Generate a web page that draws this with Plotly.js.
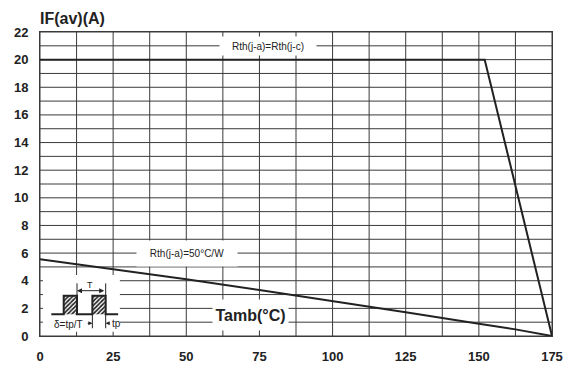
<!DOCTYPE html>
<html>
<head>
<meta charset="utf-8">
<script src="https://cdn.plot.ly/plotly-3.0.1.min.js"></script>
<style>html,body{margin:0;padding:0;background:#fff;}#chart{width:574px;height:366px;}</style>
</head>
<body>
<div id="chart"></div>
<script>
// Data
const tempMaxX = [0, 152, 175];
const currentMaxY = [20, 20, 0];
const tempAmbX = [0, 25, 50, 75, 100, 125, 150, 162.5, 175];
const currentAmbY = [5.55, 4.85, 4.1, 3.33, 2.55, 1.72, 0.88, 0.48, 0];
// Ticks and grid
const xTickVals = [0, 25, 50, 75, 100, 125, 150, 175];
const yTickVals = [0, 2, 4, 6, 8, 10, 12, 14, 16, 18, 20, 22];
const xGridVals = [0, 12.5, 25, 37.5, 50, 62.5, 75, 87.5, 100, 112.5, 125, 137.5, 150, 162.5, 175];
const yGridVals = [0, 1, 2, 3, 4, 5, 6, 7, 8, 9, 10, 11, 12, 13, 14, 15, 16, 17, 18, 19, 20, 21, 22];

// Inset pulse diagram (decorative schematic)
const insetBoxX = [1.0, 27.3, 27.3, 1.0, 1.0];
const insetBoxY = [0.3, 0.3, 4.41, 4.41, 0.3];
const pulse1X = [8.1, 8.1, 12.65, 12.65, 8.1];
const pulse2X = [17.9, 17.9, 22.45, 22.45, 17.9];
const pulseY = [1.57, 2.92, 2.92, 1.57, 1.57];
const waveX = [3.87, 8.1, 8.1, 12.65, 12.65, 17.9, 17.9, 22.45, 22.45, 26.7];
const waveY = [1.57, 1.57, 2.92, 2.92, 1.57, 1.57, 2.92, 2.92, 1.57, 1.57];
const markX = [12.65, 12.65, null, 22.45, 22.45, null, 17.9, 17.9, null, 22.45, 22.45];
const markY = [2.92, 3.81, null, 2.92, 3.81, null, 1.57, 0.56, null, 1.57, 0.56];

const FONT = 'Liberation Sans, Arial, Helvetica, sans-serif';
const INK = '#222';
const GRID = '#3a3a3a';

const hatch = {shape: '/', fgcolor: '#222', bgcolor: '#fff', size: 3, solidity: 0.55};

const traces = [
  {x: insetBoxX, y: insetBoxY, mode: 'lines', fill: 'toself', fillcolor: '#fff', line: {width: 0, color: '#fff'}, hoverinfo: 'skip', showlegend: false},
  {x: pulse1X, y: pulseY, mode: 'lines', fill: 'toself', fillcolor: '#fff', fillpattern: hatch, line: {width: 0}, hoverinfo: 'skip', showlegend: false},
  {x: pulse2X, y: pulseY, mode: 'lines', fill: 'toself', fillcolor: '#fff', fillpattern: hatch, line: {width: 0}, hoverinfo: 'skip', showlegend: false},
  {x: waveX, y: waveY, mode: 'lines', line: {color: INK, width: 2}, hoverinfo: 'skip', showlegend: false},
  {x: markX, y: markY, mode: 'lines', line: {color: INK, width: 1}, connectgaps: false, hoverinfo: 'skip', showlegend: false},
  {x: tempMaxX, y: currentMaxY, mode: 'lines', line: {color: INK, width: 2}, showlegend: false},
  {x: tempAmbX, y: currentAmbY, mode: 'lines', line: {color: INK, width: 2}, showlegend: false}
];

const gridShapes = [
  ...xGridVals.map(v => ({type: 'line', layer: 'below', xref: 'x', yref: 'paper', x0: v, x1: v, y0: 0, y1: 1, line: {color: GRID, width: 1}})),
  ...yGridVals.map(v => ({type: 'line', layer: 'below', xref: 'paper', yref: 'y', x0: 0, x1: 1, y0: v, y1: v, line: {color: GRID, width: 1}}))
];

const layout = {
  width: 574, height: 366,
  margin: {l: 40, r: 22, t: 32, b: 30},
  paper_bgcolor: '#fff', plot_bgcolor: '#fff',
  font: {family: FONT, color: INK},
  title: {
    text: 'IF(av)(A)',
    font: {family: FONT, size: 16, weight: 'bold', color: INK},
    xref: 'container', x: 40/574, xanchor: 'left',
    yref: 'container', y: 1 - 18/366, yanchor: 'middle'
  },
  xaxis: {
    range: [xTickVals[0], xTickVals[xTickVals.length - 1]],
    tickmode: 'array', tickvals: xTickVals, ticks: '',
    tickfont: {family: FONT, size: 13, weight: 'bold', color: INK},
    ticklabelstandoff: 8,
    showgrid: false,
    showline: true, mirror: true, linecolor: GRID, linewidth: 1,
    zeroline: false, fixedrange: true
  },
  yaxis: {
    range: [yTickVals[0], yTickVals[yTickVals.length - 1]],
    tickmode: 'array', tickvals: yTickVals, ticks: '',
    tickfont: {family: FONT, size: 13, weight: 'bold', color: INK},
    ticklabelstandoff: 8,
    showgrid: false,
    showline: true, mirror: true, linecolor: GRID, linewidth: 1,
    zeroline: false, fixedrange: true
  },
  shapes: gridShapes,
  annotations: [
    {x: 77.9, y: 21, xref: 'x', yref: 'y', text: 'Rth(j-a)=Rth(j-c)', showarrow: false,
     font: {family: FONT, size: 10, color: INK}, bgcolor: '#fff', width: 96, height: 18, borderpad: 0},
    {x: 50.2, y: 5.97, xref: 'x', yref: 'y', text: 'Rth(j-a)=50°C/W', showarrow: false,
     font: {family: FONT, size: 10, color: INK}, bgcolor: '#fff', width: 100, height: 25, borderpad: 0},
    {x: 71.95, y: 1.52, xref: 'x', yref: 'y', text: 'Tamb(°C)', showarrow: false,
     font: {family: FONT, size: 16, weight: 'bold', color: INK}, bgcolor: '#fff', width: 75, height: 30, borderpad: 0},
    {x: 17.2, y: 3.72, xref: 'x', yref: 'y', text: 'T', showarrow: false,
     font: {family: FONT, size: 9, color: INK}},
    {x: 9.8, y: 0.85, xref: 'x', yref: 'y', text: 'δ=tp/T', showarrow: false,
     font: {family: FONT, size: 10, color: INK}},
    {x: 26.0, y: 0.88, xref: 'x', yref: 'y', text: 'tp', showarrow: false,
     font: {family: FONT, size: 10, color: INK}},
    {x: 12.65, y: 3.28, ax: 22.45, ay: 3.28, xref: 'x', yref: 'y', axref: 'x', ayref: 'y', text: '',
     showarrow: true, arrowhead: 2, arrowside: 'end+start', arrowsize: 1, arrowwidth: 1, arrowcolor: INK},
    {x: 17.9, y: 0.92, ax: 15.8, ay: 0.92, xref: 'x', yref: 'y', axref: 'x', ayref: 'y', text: '',
     showarrow: true, arrowhead: 2, arrowsize: 0.8, arrowwidth: 1, arrowcolor: INK},
    {x: 22.45, y: 0.92, ax: 24.3, ay: 0.92, xref: 'x', yref: 'y', axref: 'x', ayref: 'y', text: '',
     showarrow: true, arrowhead: 2, arrowsize: 0.8, arrowwidth: 1, arrowcolor: INK}
  ]
};

Plotly.newPlot('chart', traces, layout, {displayModeBar: false, staticPlot: true});
</script>
</body>
</html>
